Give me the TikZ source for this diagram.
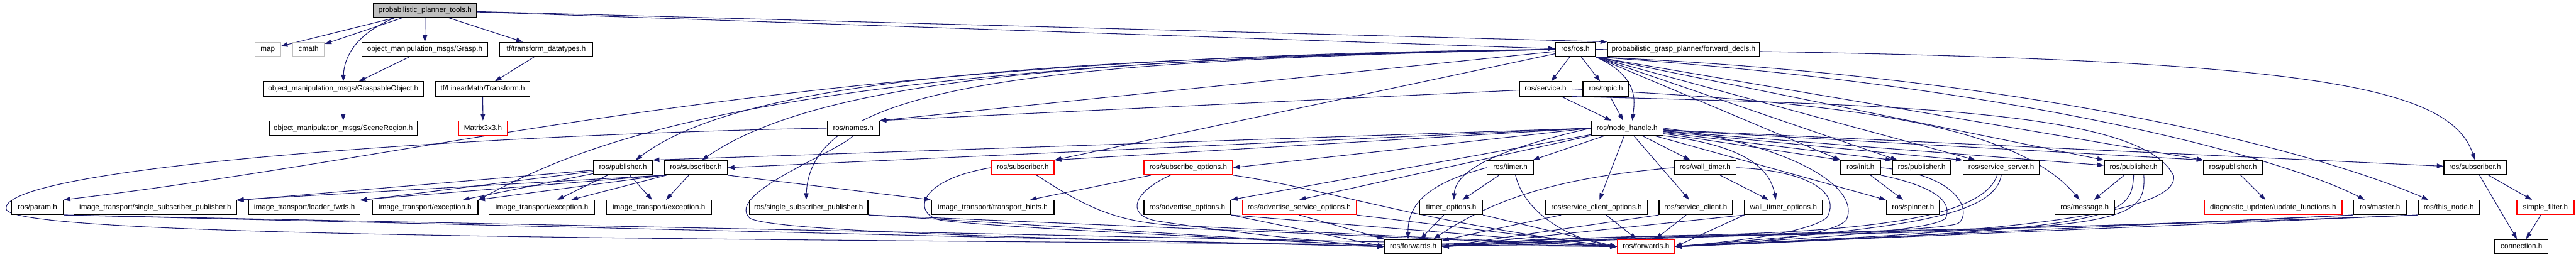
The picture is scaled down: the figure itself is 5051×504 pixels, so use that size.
\documentclass[tikz,border=0pt]{standalone}
\usepackage{fontspec}
\setmainfont{Liberation Sans}
\usetikzlibrary{arrows.meta,calc,backgrounds}
\definecolor{edgec}{HTML}{191970}
\definecolor{grayc}{HTML}{BFBFBF}
\tikzset{
 box/.style={draw=black, fill=white, line width=0.9pt, minimum height=14pt, inner xsep=2pt, inner ysep=0pt,
   font=\fontsize{7.2}{8}\selectfont, text height=5.4pt, text depth=1.5pt},
 redbox/.style={box, draw=red},
 graybox/.style={box, draw=grayc},
 rootbox/.style={box, fill=grayc},
 e/.style={draw=edgec, line width=0.65pt, -{Triangle[length=6.5pt,width=4.5pt]}},
}
\newcommand{\nd}[6]{\node[#6, minimum width={(#3-#2)*0.5pt}] (#1) at ({(#2+#3)/2},#4) {#5};}
\begin{document}
\begin{tikzpicture}[x=0.5pt,y=0.5pt]
\useasboundingbox (0,0) rectangle (5051,-504);
% row 1
\nd{root}{732}{935}{-20}{probabilistic\_planner\_tools.h}{rootbox}
% row 2
\nd{map}{500}{550}{-97}{map}{graybox}
\nd{cmath}{574}{636}{-97}{cmath}{graybox}
\nd{grasp}{710}{956}{-97}{object\_manipulation\_msgs/Grasp.h}{box}
\nd{tfdt}{980}{1162}{-97}{tf/transform\_datatypes.h}{box}
\nd{rosh}{3050}{3128}{-97}{ros/ros.h}{box}
\nd{fwdecl}{3152}{3450}{-97}{probabilistic\_grasp\_planner/forward\_decls.h}{box}
% row 3
\nd{gobj}{516}{830}{-174.5}{object\_manipulation\_msgs/GraspableObject.h}{box}
\nd{tft}{854}{1039}{-174.5}{tf/LinearMath/Transform.h}{box}
\nd{service}{2979}{3082}{-174.5}{ros/service.h}{box}
\nd{topic}{3104}{3194}{-174.5}{ros/topic.h}{box}
% row 4
\nd{scene}{528}{818}{-251.5}{object\_manipulation\_msgs/SceneRegion.h}{box}
\nd{matrix}{899}{995}{-251.5}{Matrix3x3.h}{redbox}
\nd{names}{1622}{1724}{-251.5}{ros/names.h}{box}
\nd{nh}{3120}{3261}{-251.5}{ros/node\_handle.h}{box}
% row 5
\nd{pubA}{1164}{1279}{-329}{ros/publisher.h}{box}
\nd{subA}{1303}{1426}{-329}{ros/subscriber.h}{box}
\nd{subB}{1944}{2067}{-329}{ros/subscriber.h}{redbox}
\nd{subopt}{2243}{2417}{-329}{ros/subscribe\_options.h}{redbox}
\nd{timer}{2916}{3007}{-329}{ros/timer.h}{box}
\nd{wtimer}{3283}{3404}{-329}{ros/wall\_timer.h}{box}
\nd{init}{3609}{3687}{-329}{ros/init.h}{box}
\nd{pubC}{3711}{3825}{-329}{ros/publisher.h}{box}
\nd{srvsrv}{3849}{3999}{-329}{ros/service\_server.h}{box}
\nd{pubD}{4126}{4241}{-329}{ros/publisher.h}{box}
\nd{pubE}{4321}{4436}{-329}{ros/publisher.h}{box}
\nd{subC}{4792}{4914}{-329}{ros/subscriber.h}{box}
% row 6
\nd{param}{23}{124}{-407}{ros/param.h}{box}
\nd{itssp}{145}{464}{-407}{image\_transport/single\_subscriber\_publisher.h}{box}
\nd{itlf}{488}{706}{-407}{image\_transport/loader\_fwds.h}{box}
\nd{itex1}{730}{937}{-407}{image\_transport/exception.h}{box}
\nd{itex2}{959}{1166}{-407}{image\_transport/exception.h}{box}
\nd{itex3}{1189}{1395}{-407}{image\_transport/exception.h}{box}
\nd{rssp}{1469}{1702}{-407}{ros/single\_subscriber\_publisher.h}{box}
\nd{itth}{1826}{2067}{-407}{image\_transport/transport\_hints.h}{box}
\nd{advopt}{2243}{2413}{-407}{ros/advertise\_options.h}{box}
\nd{advsrv}{2436}{2659}{-407}{ros/advertise\_service\_options.h}{redbox}
\nd{tmopt}{2784}{2907}{-407}{timer\_options.h}{box}
\nd{scopt}{3031}{3230}{-407}{ros/service\_client\_options.h}{box}
\nd{sclient}{3253}{3397}{-407}{ros/service\_client.h}{box}
\nd{wtopt}{3421}{3573}{-407}{wall\_timer\_options.h}{box}
\nd{spinner}{3699}{3803}{-407}{ros/spinner.h}{box}
\nd{message}{4029}{4146}{-407}{ros/message.h}{box}
\nd{diag}{4322}{4592}{-407}{diagnostic\_updater/update\_functions.h}{redbox}
\nd{master}{4615}{4718}{-407}{ros/master.h}{box}
\nd{thisnode}{4742}{4861}{-407}{ros/this\_node.h}{box}
\nd{sfilter}{4935}{5047}{-407}{simple\_filter.h}{redbox}
% row 7
\nd{fwdB}{2715}{2827}{-484}{ros/forwards.h}{box}
\nd{fwdR}{3171}{3284}{-484}{ros/forwards.h}{redbox}
\nd{conn}{4892}{4996}{-484}{connection.h}{box}

\begin{pgfonlayer}{background}
\fill[white] (0,0) rectangle (5051,-504);
% root
\draw[e] (root) -- (map);
\draw[e] (root) -- (cmath);
\draw[e] ($(root.south west)!0.21!(root.south east)$) .. controls (700,-65) and (675,-110) .. (gobj.north);
\draw[e] (root) -- (grasp);
\draw[e] (root) -- (tfdt);
\draw[e] (root) -- (rosh);
\draw[e] (root) -- (fwdecl.north west);
\draw[e] (grasp) -- (gobj);
\draw[e] (gobj) -- (scene);
\draw[e] (tfdt) -- (tft);
\draw[e] (tft) -- (matrix);
% ros.h
\draw[e] (rosh) -- (service);
\draw[e] (rosh) -- (topic);
\draw[e] (rosh.south east) .. controls (3215,-150) and (3205,-200) .. ($(nh.north)+(10,0)$);
\draw[e] (service) -- (nh);
\draw[e] (topic) -- (nh);
\draw[e] (rosh) -- (names.north east);
\draw[e] (service) -- (names.north east);
\draw[e] (rosh.west) .. controls (1500,-110) and (900,-300) .. (param.north east);
\draw[e] (rosh.west) .. controls (2000,-115) and (1450,-160) .. ($(pubA.north)+(25,0)$);
\draw[e] (rosh.west) .. controls (2100,-115) and (1600,-160) .. ($(subA.north)+(12,0)$);
\draw[e] (rosh.west) .. controls (1500,-120) and (1150,-280) .. (itex1.north east);
\draw[e] (rosh.west) .. controls (2000,-120) and (1590,-170) .. ($(rssp.north)+(-5,0)$);
\draw[e] (rosh) -- (subB.north east);
\draw[e] (rosh.south east) -- (init.north west);
\draw[e] (rosh.south east) -- ($(pubC.north west)+(10,0)$);
\draw[e] (rosh.south east) -- ($(srvsrv.north west)+(25,0)$);
\draw[e] (rosh.south east) -- (pubD.north west);
\draw[e] (rosh.south east) -- (pubE.north west);
\draw[e] (rosh.south east) .. controls (4000,-170) and (4500,-320) .. ($(master.north)+(-30,0)$);
\draw[e] (rosh.south east) .. controls (4000,-150) and (4550,-300) .. ($(thisnode.north)+(-40,0)$);
\draw[e] (rosh.east) .. controls (4500,-110) and (4800,-160) .. (subC.north);
% node_handle
\draw[e] (nh.west) -- (pubA.north east);
\draw[e] (nh.west) -- (subA.east);
\draw[e] (nh.west) -- (subB.north east);
\draw[e] (nh.west) -- (subopt.east);
\draw[e] (nh) -- (advopt.north east);
\draw[e] (nh.south west) -- (advsrv.north);
\draw[e] (nh) -- (timer);
\draw[e] (nh.west) .. controls (2950,-290) and (2855,-330) .. ($(tmopt.north)+(5,0)$);
\draw[e] (nh) -- (scopt);
\draw[e] (nh) -- (sclient);
\draw[e] (nh) -- (wtimer);
\draw[e] (nh.south east) .. controls (3420,-285) and (3470,-330) .. ($(wtopt.north)+(-15,0)$);
\draw[e] (nh) -- (init.north west);
\draw[e] (nh) -- (pubC.north west);
\draw[e] (nh) -- (srvsrv.north west);
\draw[e] (nh) -- (pubD);
\draw[e] (nh) -- (pubE.north west);
\draw[e] (nh) -- (subC);
\draw[e] (nh) -- (spinner);
\draw[e] (nh.east) .. controls (3520,-285) and (3650,-370) .. (3620,-432) .. controls (3585,-470) and (3350,-482) .. (fwdR.east);
% others
\draw[e] (init) -- (spinner);
\draw[e] (pubD) -- (message);
\draw[e] (pubE) -- (diag);
\draw[e] (subC) -- (conn);
\draw[e] (subC) -- (sfilter);
\draw[e] (sfilter) -- (conn);
\draw[e] (wtimer) -- (wtopt);
\draw[e] (timer) -- (tmopt);
\draw[e] (subopt) -- (itth);
\draw[e] (service.east) .. controls (3600,-200) and (3950,-240) .. ($(message.north)+(-10,0)$);
\draw[e] (service.south east) .. controls (3700,-205) and (4200,-215) .. (4262,-345) .. controls (4280,-455) and (3500,-470) .. (fwdR.east);
\draw[e] (names.south) .. controls (1640,-300) and (1420,-380) .. (1470,-428) .. controls (1520,-460) and (2300,-472) .. (fwdB.west);
\draw[e] (names.west) .. controls (900,-265) and (0,-330) .. (12,-410) .. controls (20,-470) and (1500,-468) .. (fwdR.west);
\draw[e] (param.south east) -- (fwdB.west);
\draw[e] (param.south east) -- (fwdR.west);
\draw[e] (rssp.south east) -- (fwdB.west);
\draw[e] (rssp.south east) -- (fwdR.west);
\draw[e] (subB.west) .. controls (1790,-355) and (1790,-425) .. (1850,-433) .. controls (2000,-450) and (2500,-470) .. (fwdB.west);
\draw[e] ($(subB.south)+(27,0)$) .. controls (2120,-400) and (2180,-435) .. (2300,-442) .. controls (2700,-462) and (3000,-475) .. (fwdR.west);
\draw[e] ($(subopt.south)+(-35,0)$) .. controls (2225,-375) and (2205,-420) .. (2265,-433) .. controls (2400,-455) and (2600,-475) .. (fwdB.west);
\draw[e] (subopt.south east) .. controls (2600,-370) and (2800,-440) .. (fwdR.west);
\draw[e] (advopt.south east) -- (fwdB.west);
\draw[e] (advopt.south east) -- (fwdR.west);
\draw[e] (advsrv.south) -- (fwdB.north west);
\draw[e] (advsrv.south east) -- (fwdR.west);
\draw[e] (tmopt) -- (fwdB);
\draw[e] (tmopt.south east) -- (fwdR.west);
\draw[e] (timer.west) .. controls (2800,-360) and (2760,-400) .. ($(fwdB.north)+(-10,0)$);
\draw[e] ($(timer.south)+(10,0)$) .. controls (2990,-420) and (3080,-470) .. (fwdR.west);
\draw[e] (wtimer.west) .. controls (3100,-345) and (2950,-375) .. ($(fwdB.north)+(40,0)$);
\draw[e] (wtimer.east) .. controls (3550,-335) and (3610,-380) .. (3582,-427) .. controls (3540,-462) and (3350,-478) .. (fwdR.east);
\draw[e] (scopt) -- (fwdB);
\draw[e] (scopt) -- (fwdR);
\draw[e] (sclient.south west) -- (fwdB.east);
\draw[e] (sclient) -- (fwdR);
\draw[e] (wtopt.south west) -- (fwdB.east);
\draw[e] (wtopt.south west) -- (fwdR.east);
\draw[e] (init.south east) .. controls (3815,-370) and (3825,-405) .. (3815,-428) .. controls (3790,-455) and (3500,-470) .. (fwdR.east);
\draw[e] (init.east) .. controls (3850,-345) and (3865,-420) .. (3840,-438) .. controls (3800,-458) and (3300,-462) .. (fwdB.east);
\draw[e] (srvsrv.south) .. controls (3910,-430) and (3700,-450) .. (fwdR.east);
\draw[e] ($(srvsrv.south)+(-8,0)$) .. controls (3890,-420) and (3700,-455) .. (3300,-462) .. controls (3000,-468) and (2900,-478) .. (fwdB.east);
\draw[e] (pubD.south) .. controls (4180,-430) and (4150,-450) .. (fwdR.east);
\draw[e] ($(pubD.south)+(20,0)$) .. controls (4210,-440) and (4150,-455) .. (3300,-463) .. controls (3000,-468) and (2900,-478) .. (fwdB.east);
\draw[e] (master.south west) -- (fwdR.east);
\draw[e] (master.south west) .. controls (4000,-455) and (3300,-458) .. (fwdB.east);
\draw[e] (thisnode.south west) -- (fwdR.east);
\draw[e] (thisnode.south west) .. controls (4000,-452) and (3300,-456) .. (fwdB.east);
% image_transport publisher / subscriber
\draw[e] (pubA) -- (itssp);
\draw[e] (pubA) -- (itlf);
\draw[e] (pubA) -- (itex1);
\draw[e] (pubA) -- (itex2);
\draw[e] (pubA) -- (itex3);
\draw[e] (subA.south west) -- (itssp.north east);
\draw[e] (subA.south west) -- (itlf.north east);
\draw[e] (subA.south west) -- (itex1.north east);
\draw[e] (subA) -- (itex2);
\draw[e] (subA) -- (itex3);
\draw[e] (subA.south east) -- (itth.north west);
\end{pgfonlayer}
\end{tikzpicture}
\end{document}
